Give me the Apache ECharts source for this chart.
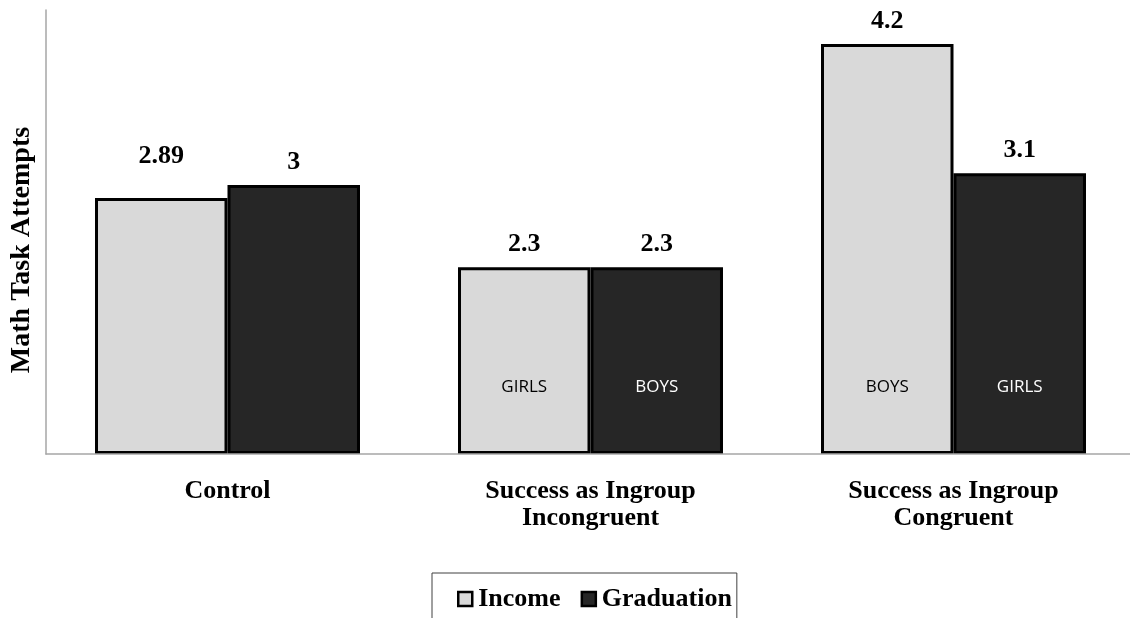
<!DOCTYPE html>
<html>
<head>
<meta charset="utf-8">
<script src="https://cdn.jsdelivr.net/npm/echarts@6/dist/echarts.min.js"></script>
<style>
  html, body { margin: 0; padding: 0; background: #fff; }
  #chart { width: 1130px; height: 618px; }
</style>
</head>
<body>
<div id="chart"></div>
<script>
// Conditions on the x axis
const categories = ['Control', 'Success as Ingroup\nIncongruent', 'Success as Ingroup\nCongruent'];
// Framing of the task
const seriesNames = ['Income', 'Graduation'];
// Mean math task attempts per condition
const incomeValues = [2.89, 2.3, 4.2];
const graduationValues = [3, 2.3, 3.1];
// Which gender group each bar represents
const incomeGroups = ['', 'GIRLS', 'BOYS'];
const graduationGroups = ['', 'BOYS', 'GIRLS'];
const axisTitle = 'Math Task Attempts';

const SERIF = '"Liberation Serif", "Times New Roman", serif';
const SANS = '"Open Sans", "Liberation Sans", sans-serif';
const LIGHT = '#d9d9d9';
const DARK = '#262626';
const AXIS_GRAY = '#a6a6a6';

const chart = echarts.init(document.getElementById('chart'), null, { renderer: 'canvas' });

const valueLabel = {
  show: true,
  position: 'top',
  distance: 10,
  fontFamily: SERIF,
  fontWeight: 'bold',
  fontSize: 26,
  color: '#000'
};

function mainSeries(name, values, color, firstLift) {
  return {
    name: name,
    type: 'bar',
    xAxisIndex: 0,
    barGap: 0,
    barCategoryGap: '27%',
    itemStyle: { color: color, borderColor: '#000', borderWidth: 3 },
    label: valueLabel,
    data: values.map((v, i) => (i === 0 && firstLift) ? { value: v, label: { distance: firstLift } } : v),
    z: 2
  };
}

function groupSeries(name, values, groups, textColor) {
  return {
    name: name,
    type: 'bar',
    xAxisIndex: 1,
    barGap: 0,
    barCategoryGap: '27%',
    silent: true,
    itemStyle: { color: 'rgba(0,0,0,0)', borderWidth: 0 },
    label: {
      show: true,
      position: 'insideBottom',
      distance: 58,
      fontFamily: SANS,
      fontSize: 17,
      color: textColor,
      formatter: p => groups[p.dataIndex]
    },
    data: values,
    z: 3
  };
}

chart.setOption({
  animation: false,
  backgroundColor: '#fff',
  grid: { left: 46, right: -5, top: 10, bottom: 164, outerBoundsMode: 'none', containLabel: false },
  xAxis: [
    {
      type: 'category',
      data: categories,
      axisLine: { show: true, lineStyle: { color: AXIS_GRAY, width: 1.5 } },
      axisTick: { show: false },
      axisLabel: {
        margin: 24,
        fontFamily: SERIF,
        fontWeight: 'bold',
        fontSize: 26,
        lineHeight: 27,
        color: '#000',
        interval: 0
      },
      z: 5
    },
    { type: 'category', data: categories, show: false }
  ],
  yAxis: {
    type: 'value',
    min: 0.71,
    max: 4.49,
    startValue: 0.71,
    splitLine: { show: false },
    axisLabel: { show: false },
    axisTick: { show: false },
    axisLine: { show: true, lineStyle: { color: AXIS_GRAY, width: 1.5 } }
  },
  legend: {
    data: seriesNames,
    left: 432,
    top: 573,
    padding: [13, 5, 13, 25],
    itemWidth: 14,
    itemHeight: 14,
    itemGap: 20,
    icon: 'rect',
    itemStyle: { borderWidth: 2.5, borderColor: '#000' },
    borderColor: '#404040',
    borderWidth: 1,
    backgroundColor: '#fff',
    textStyle: { fontFamily: SERIF, fontWeight: 'bold', fontSize: 26, color: '#000', padding: [0, 0, 0, 1] }
  },
  graphic: [{
    type: 'text',
    x: 22,
    y: 250,
    rotation: Math.PI / 2,
    style: {
      text: axisTitle,
      fontFamily: SERIF,
      fontWeight: 'bold',
      fontSize: 28,
      fill: '#000',
      textAlign: 'center',
      textVerticalAlign: 'middle'
    }
  }],
  series: [
    mainSeries(seriesNames[0], incomeValues, LIGHT, 29),
    mainSeries(seriesNames[1], graduationValues, DARK, 0),
    groupSeries('Income group', incomeValues, incomeGroups, '#000'),
    groupSeries('Graduation group', graduationValues, graduationGroups, '#fff')
  ]
});
</script>
</body>
</html>
